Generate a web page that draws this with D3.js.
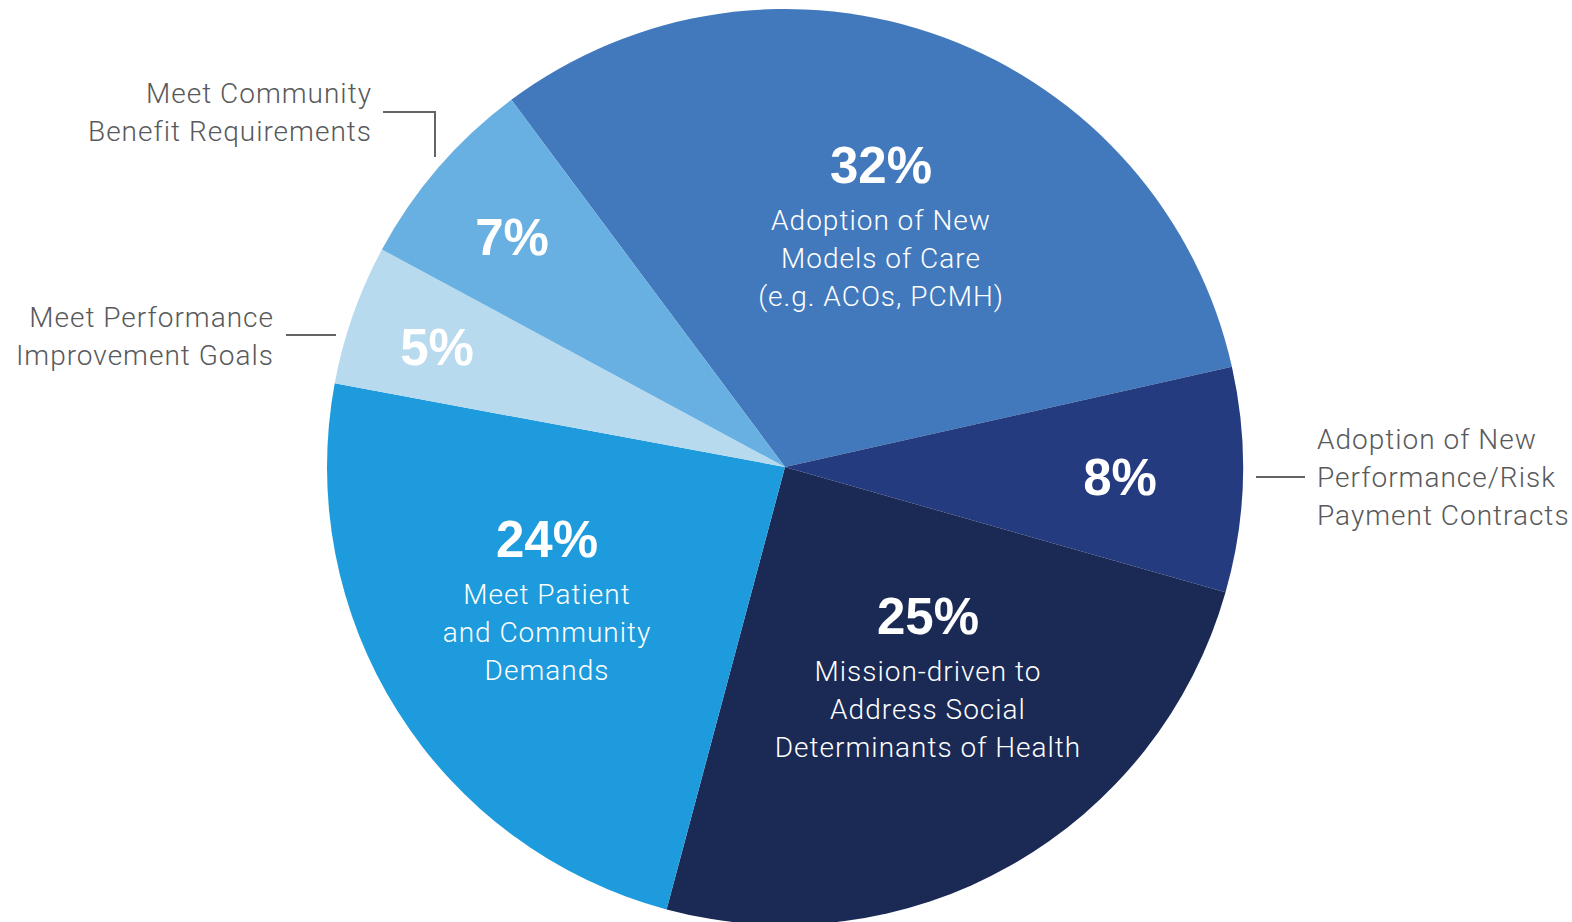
<!DOCTYPE html>
<html>
<head>
<meta charset="utf-8">
<script src="https://cdn.jsdelivr.net/npm/d3@7"></script>
<style>
  html, body { margin: 0; padding: 0; background: #fff; }
  svg { display: block; }
  .pct { font-family: 'Liberation Sans', Arial, sans-serif; font-weight: bold; fill: #fff; }
  .desc { font-family: Roboto, 'Noto Sans', sans-serif; font-weight: 300; fill: #fff; letter-spacing: 1px; }
  .outer { font-family: Roboto, 'Noto Sans', sans-serif; font-weight: 300; fill: #58595b; letter-spacing: 1px; }
  .leader { stroke: #636466; stroke-width: 2; fill: none; }
</style>
</head>
<body>
<div id="chart"></div>
<script>
// data
var categories = [
  'Adoption of New Models of Care',
  'Adoption of New Performance/Risk Payment Contracts',
  'Mission-driven to Address Social Determinants of Health',
  'Meet Patient and Community Demands',
  'Meet Performance Improvement Goals',
  'Meet Community Benefit Requirements'
];
var values = [32, 8, 25, 24, 5, 7];
var insideLines = [
  ['Adoption of New', 'Models of Care', '(e.g. ACOs, PCMH)'],
  [],
  ['Mission-driven to', 'Address Social', 'Determinants of Health'],
  ['Meet Patient', 'and Community', 'Demands'],
  [],
  []
];
var outsideLines = [
  [],
  ['Adoption of New', 'Performance/Risk', 'Payment Contracts'],
  [],
  [],
  ['Meet Performance', 'Improvement Goals'],
  ['Meet Community', 'Benefit Requirements']
];
var colors = ['#4279bd', '#243b80', '#1a2a55', '#1e9bdc', '#b8daef', '#68b0e1'];

var vWidth = 1572,
  vHeight = 922,
  cx = 785,
  cy = 467,
  radius = 458;

// label anchors, relative to the pie centre (percent baseline)
var pctPos = [
  { dx: 96, dy: -284 },
  { dx: 335, dy: 28 },
  { dx: 143, dy: 167 },
  { dx: -238, dy: 90 },
  { dx: -348, dy: -102 },
  { dx: -273, dy: -212 }
];
// outside labels: anchor, first baseline, leader path (relative to centre)
var outPos = [
  null,
  { x: 532, y: -18, anchor: 'start', path: [[471, 10], [520, 10]] },
  null,
  null,
  { x: -511, y: -140, anchor: 'end', path: [[-499, -132], [-449, -132]] },
  { x: -413, y: -364, anchor: 'end', path: [[-402, -355], [-350, -355], [-350, -310]] }
];

var svg = d3
  .select('#chart')
  .append('svg')
  .attr('width', vWidth)
  .attr('height', vHeight)
  .attr('viewBox', '0 0 ' + vWidth + ' ' + vHeight);

var g = svg.append('g').attr('transform', 'translate(' + cx + ',' + cy + ')');

var startAngle = (-36.7 * Math.PI) / 180;

var pie = d3
  .pie()
  .sort(null)
  .startAngle(startAngle)
  .endAngle(startAngle + 2 * Math.PI)
  .value(function(d) {
    return d;
  });

var arc = d3
  .arc()
  .innerRadius(0)
  .outerRadius(radius);

var arcs = pie(values);

g.selectAll('.slice')
  .data(arcs)
  .enter()
  .append('path')
  .attr('class', 'slice')
  .attr('d', arc)
  .attr('fill', function(d, i) {
    return colors[i];
  });

// percentages
g.selectAll('.pct')
  .data(arcs)
  .enter()
  .append('text')
  .attr('class', 'pct')
  .attr('text-anchor', 'middle')
  .attr('font-size', 51)
  .attr('x', function(d, i) {
    return pctPos[i].dx;
  })
  .attr('y', function(d, i) {
    return pctPos[i].dy;
  })
  .text(function(d) {
    return d.data + '%';
  });

// descriptions inside slices
arcs.forEach(function(d, i) {
  if (!insideLines[i].length) return;
  var t = g
    .append('text')
    .attr('class', 'desc')
    .attr('text-anchor', 'middle')
    .attr('font-size', 28);
  insideLines[i].forEach(function(line, j) {
    t.append('tspan')
      .attr('x', pctPos[i].dx)
      .attr('y', pctPos[i].dy + 47 + j * 38)
      .text(line);
  });
});

// labels outside the pie with leader lines
var line = d3.line();
arcs.forEach(function(d, i) {
  var o = outPos[i];
  if (!o) return;
  var t = g
    .append('text')
    .attr('class', 'outer')
    .attr('text-anchor', o.anchor)
    .attr('font-size', 28);
  outsideLines[i].forEach(function(l, j) {
    t.append('tspan')
      .attr('x', o.x)
      .attr('y', o.y + j * 38)
      .text(l);
  });
  g.append('path')
    .attr('class', 'leader')
    .attr('d', line(o.path));
});
</script>
</body>
</html>
